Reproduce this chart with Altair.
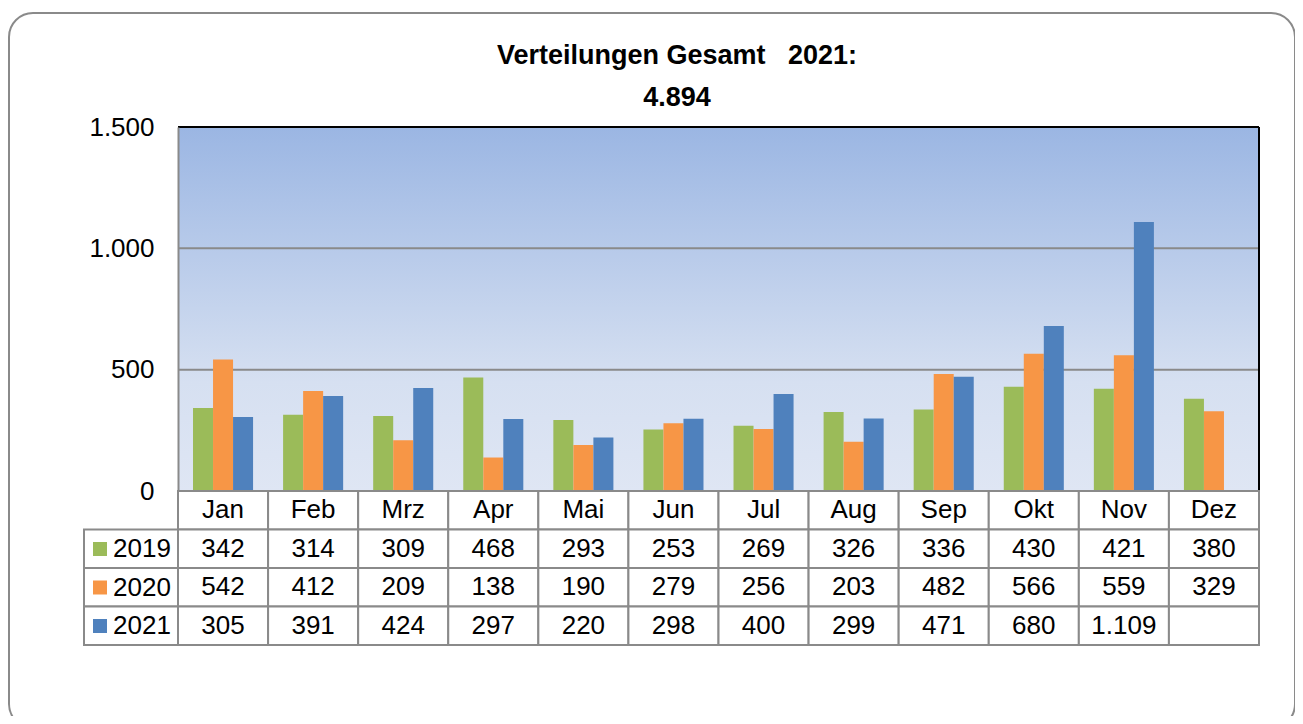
import altair as alt
import pandas as pd

# ---------------- data ----------------
months = ["Jan", "Feb", "Mrz", "Apr", "Mai", "Jun", "Jul", "Aug", "Sep", "Okt", "Nov", "Dez"]
years = ["2019", "2020", "2021"]
v2019 = [342, 314, 309, 468, 293, 253, 269, 326, 336, 430, 421, 380]
v2020 = [542, 412, 209, 138, 190, 279, 256, 203, 482, 566, 559, 329]
v2021 = [305, 391, 424, 297, 220, 298, 400, 299, 471, 680, 1109, None]
colors = ["#9BBB59", "#F79646", "#4F81BD"]
y_ticks = [0, 500, 1000, 1500]
title_lines = ["Verteilungen Gesamt\u00a0\u00a0\u00a02021:", "4.894"]

# ---------------- layout (view coordinates) ----------------
VW, VH = 1286, 703
PL, PR, PT, PB = 169, 1250, 114, 478   # plot area
TB = 632                               # bottom of table
LC = 75                                # left edge of legend column
FONT = "Liberation Sans"
GRAY = "#8a8a8a"


def de(v):
    return f"{v:,}".replace(",", ".")


series = {"2019": v2019, "2020": v2020, "2021": v2021}
bar_rows = []
for y in years:
    for m, v in zip(months, series[y]):
        if v is not None:
            bar_rows.append({"month": m, "year": y, "value": v})
bars_df = pd.DataFrame(bar_rows)

cell_rows = [{"col": m, "row": "hdr", "label": m} for m in months]
for y in years:
    for m, v in zip(months, series[y]):
        cell_rows.append({"col": m, "row": y, "label": "" if v is None else de(v)})
cells_df = pd.DataFrame(cell_rows)
lbl_df = pd.DataFrame({"row": years})

yscale = alt.Scale(domain=[0, 1500], range=[PB, PT], nice=False, zero=True)
tx = alt.Scale(domain=months, range=[PL, PR], paddingInner=0, paddingOuter=0)
ty = alt.Scale(domain=["hdr"] + years, range=[PB, TB], paddingInner=0, paddingOuter=0)

one = pd.DataFrame({"a": [0]})

gradient = alt.LinearGradient(
    gradient="linear", x1=0, y1=0, x2=0, y2=1,
    stops=[alt.GradientStop(color="#9BB6E3", offset=0),
           alt.GradientStop(color="#D6E0F1", offset=0.7),
           alt.GradientStop(color="#DFE6F4", offset=1)],
)

outer = alt.Chart(one).mark_rect(fill="white", stroke=GRAY, strokeWidth=2, cornerRadius=24).encode(
    x=alt.value(0), x2=alt.value(VW), y=alt.value(0), y2=alt.value(VH + 12)
)

bg = alt.Chart(one).mark_rect(fill=gradient).encode(
    x=alt.value(PL), x2=alt.value(PR), y=alt.value(PT), y2=alt.value(PB)
)

grid = alt.Chart(pd.DataFrame({"v": [500, 1000]})).mark_rule(color=GRAY, strokeWidth=2).encode(
    y=alt.Y("v:Q", scale=yscale, axis=None), x=alt.value(PL), x2=alt.value(PR)
)

bars = alt.Chart(bars_df).mark_bar().encode(
    x=alt.X("month:N", sort=months,
            scale=alt.Scale(domain=months, range=[PL, PR], paddingInner=1 / 3, paddingOuter=1 / 6),
            axis=None),
    xOffset=alt.XOffset("year:N", sort=years,
                        scale=alt.Scale(domain=years, paddingInner=0, paddingOuter=0)),
    y=alt.Y("value:Q", scale=yscale,
            axis=alt.Axis(values=y_ticks, title=None, grid=False, ticks=False, tickSize=0,
                          labelExpr="replace(format(datum.value, ','), ',', '.')",
                          labelFontSize=26, labelFont=FONT, labelColor="black",
                          labelPadding=24, domainColor=GRAY, domainWidth=2,
                          offset=-PL, zindex=2)),
    color=alt.Color("year:N", sort=years, scale=alt.Scale(domain=years, range=colors),
                    legend=alt.Legend(orient="none", legendX=78, legendY=523, direction="vertical",
                                      title=None, symbolType="square", symbolSize=196,
                                      symbolStrokeWidth=0, labelFontSize=26, labelFont=FONT,
                                      labelColor="black", labelOffset=0, rowPadding=12.5,
                                      padding=0)),
)

frame_top = alt.Chart(pd.DataFrame({"v": [1500]})).mark_rule(color="black", strokeWidth=2).encode(
    y=alt.Y("v:Q", scale=yscale, axis=None), x=alt.value(PL), x2=alt.value(PR)
)
frame_right = alt.Chart(pd.DataFrame({"v0": [0], "v1": [1500]})).mark_rule(
    color="black", strokeWidth=2).encode(
    y=alt.Y("v0:Q", scale=yscale, axis=None), y2="v1:Q", x=alt.value(PR)
)

cells = alt.Chart(cells_df).mark_rect(fill="white", stroke=GRAY, strokeWidth=2).encode(
    x=alt.X("col:N", scale=tx, axis=None), y=alt.Y("row:N", scale=ty, axis=None)
)
lbl_cells = alt.Chart(lbl_df).mark_rect(fill="white", stroke=GRAY, strokeWidth=2).encode(
    x=alt.value(LC), x2=alt.value(PL), y=alt.Y("row:N", scale=ty, axis=None)
)
texts = alt.Chart(cells_df).mark_text(fontSize=26, font=FONT, color="black").encode(
    x=alt.X("col:N", scale=tx, axis=None), y=alt.Y("row:N", scale=ty, axis=None),
    text="label:N"
)

chart = alt.layer(outer, bg, grid, bars, frame_top, frame_right, lbl_cells, cells, texts).resolve_scale(
    x="independent", y="independent"
).properties(
    width=VW, height=VH,
    title=alt.Title(text=title_lines, fontSize=27, fontWeight="bold", font=FONT, color="black",
                    anchor="middle", frame="group", baseline="alphabetic", lineHeight=42,
                    offset=0, dx=25, dy=121),
    autosize=alt.AutoSizeParams(type="none"),
    padding={"left": 1, "top": 5, "right": 0, "bottom": 0},
).configure(
    font=FONT, background="white"
).configure_view(
    stroke=None, fill="white"
)

chart.save("out.html", embed_options={"renderer": "svg", "actions": False})
